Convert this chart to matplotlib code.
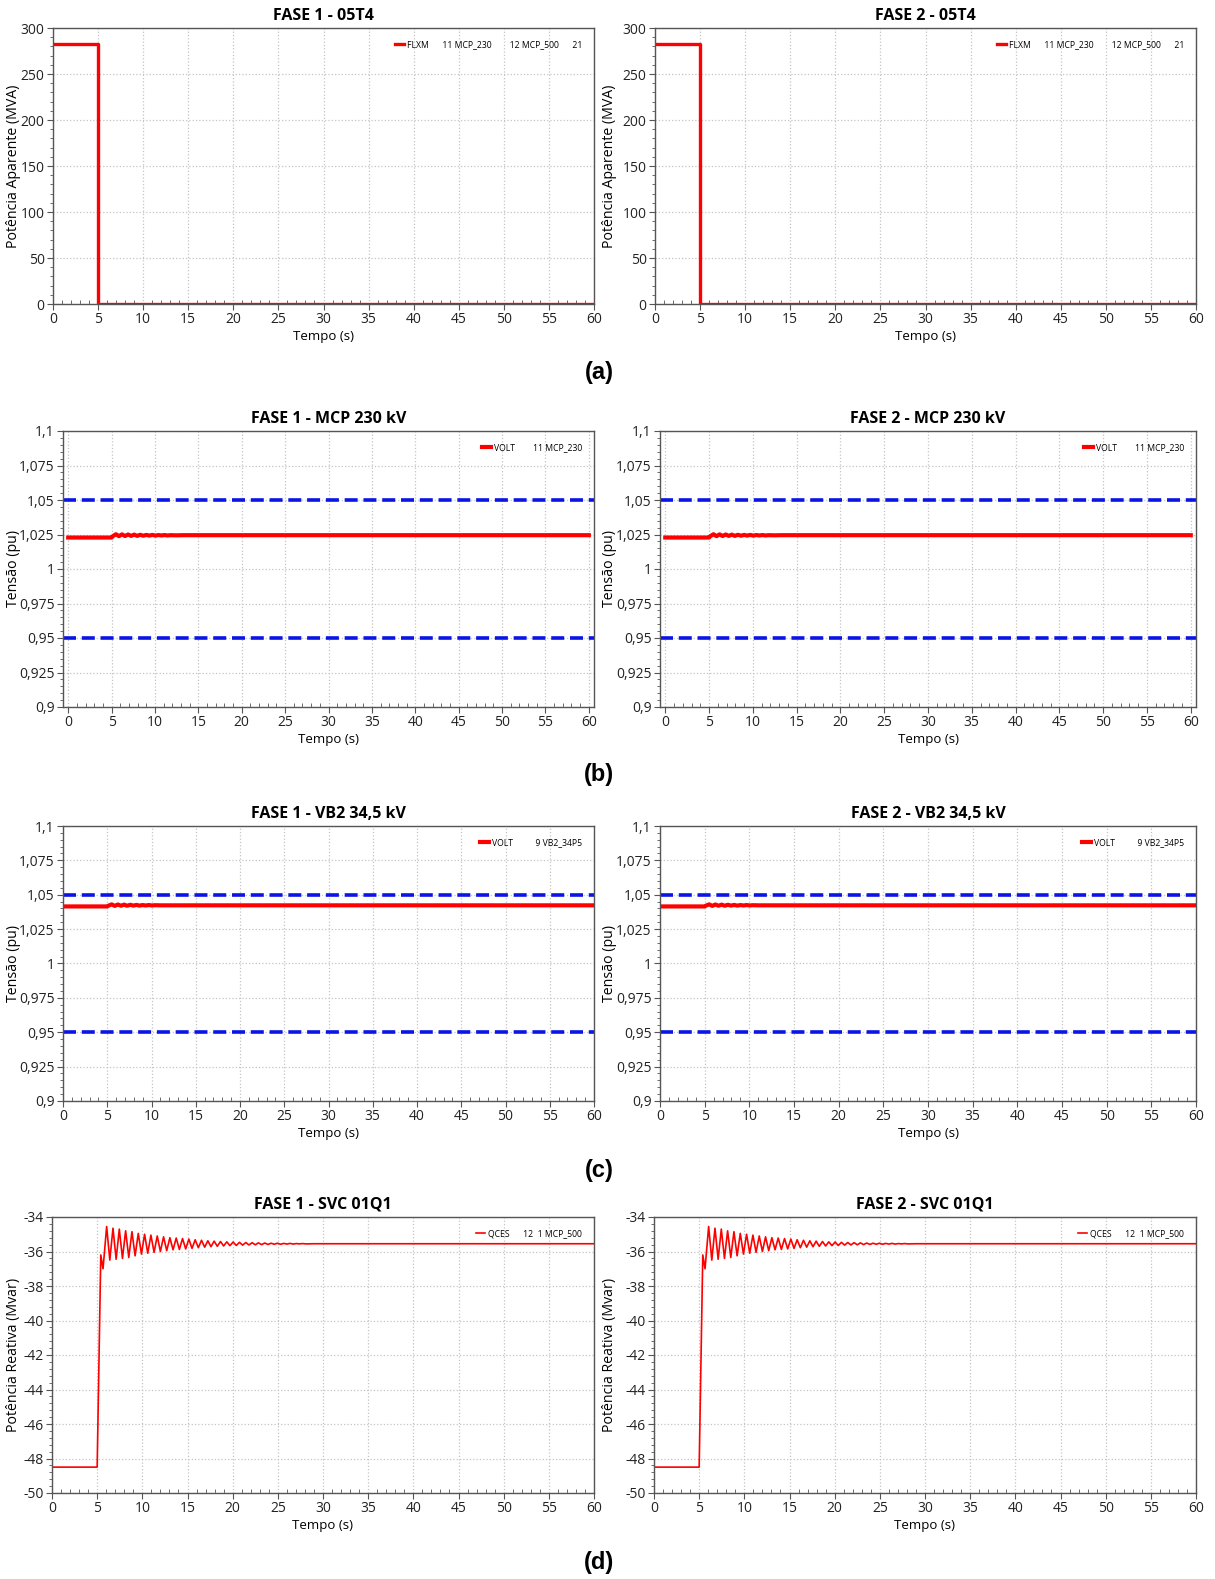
import matplotlib
matplotlib.use("Agg")
import matplotlib.pyplot as plt
import matplotlib.transforms as mtransforms
from matplotlib.ticker import MultipleLocator, AutoMinorLocator, FuncFormatter

plt.rcParams['font.family'] = ['Open Sans', 'DejaVu Sans']

# ---- data ----
# (a) apparent power on 05T4 (MVA)
t_flx = [0, 5.0, 5.0, 60]
s_flx = [283, 283, 0.5, 0.5]

# (b) voltage MCP 230 kV (pu)
t_v230 = [0, 5.0, 5.15, 5.5, 5.85, 6.2, 6.55, 6.9, 7.25, 7.6, 7.95, 8.3, 8.65,
          9.0, 9.35, 9.7, 10.05, 10.4, 10.75, 11.1, 11.45, 11.8, 12.5, 13.2, 14.0, 15.0, 60]
v230 = [1.0228, 1.0228, 1.0238, 1.0252, 1.0238, 1.0251, 1.0239, 1.0250, 1.0240,
        1.0249, 1.0240, 1.0248, 1.0241, 1.0247, 1.0242, 1.0247, 1.0242, 1.0246,
        1.0243, 1.0246, 1.0243, 1.0245, 1.0244, 1.0245, 1.0245, 1.0245, 1.0245]

# (c) voltage VB2 34,5 kV (pu)
t_vb2 = [0, 5.0, 5.15, 5.5, 5.85, 6.2, 6.55, 6.9, 7.25, 7.6, 7.95, 8.3, 8.65,
         9.0, 9.35, 9.7, 10.05, 10.4, 11.0, 12.0, 60]
vb2 = [1.0415, 1.0415, 1.0421, 1.0430, 1.0419, 1.0429, 1.0420, 1.0428, 1.0420,
       1.0427, 1.0421, 1.0426, 1.0421, 1.0425, 1.0422, 1.0425, 1.0422, 1.0424,
       1.0423, 1.0423, 1.0423]

# (d) SVC reactive power (Mvar)
t_q = [0, 5.0, 5.4, 5.65, 6.05, 6.4, 6.75, 7.1, 7.45, 7.8, 8.15, 8.5, 8.85, 9.2,
       9.55, 9.9, 10.25, 10.6, 10.95, 11.3, 11.65, 12.0, 12.35, 12.7, 13.05, 13.4,
       13.75, 14.1, 14.45, 14.8, 15.15, 15.5, 15.85, 16.2, 16.55, 16.9, 17.25, 17.6,
       17.95, 18.3, 18.65, 19.0, 19.35, 19.7, 20.05, 20.4, 20.75, 21.1, 21.45, 21.8,
       22.15, 22.5, 22.85, 23.2, 23.55, 23.9, 24.25, 24.6, 24.95, 25.3, 25.65, 26.0,
       26.35, 26.7, 27.05, 27.4, 27.75, 28.1, 29.0, 60]
q_svc = [-48.5, -48.5, -36.2, -37.0, -34.55, -36.5, -34.65, -36.45, -34.7, -36.4,
         -34.8, -36.35, -34.85, -36.25, -34.95, -36.15, -35.0, -36.1, -35.05, -36.05,
         -35.1, -36.0, -35.15, -35.95, -35.2, -35.9, -35.22, -35.88, -35.25, -35.85,
         -35.28, -35.82, -35.32, -35.78, -35.35, -35.75, -35.38, -35.72, -35.4, -35.7,
         -35.42, -35.68, -35.44, -35.66, -35.45, -35.65, -35.47, -35.63, -35.48, -35.62,
         -35.49, -35.61, -35.5, -35.6, -35.51, -35.59, -35.52, -35.58, -35.52, -35.58,
         -35.53, -35.57, -35.53, -35.57, -35.54, -35.56, -35.54, -35.56, -35.55, -35.55]

v_limits = [1.05, 0.95]

titles = [("FASE 1 - 05T4", "FASE 2 - 05T4"),
          ("FASE 1 - MCP 230 kV", "FASE 2 - MCP 230 kV"),
          ("FASE 1 - VB2 34,5 kV", "FASE 2 - VB2 34,5 kV"),
          ("FASE 1 - SVC 01Q1", "FASE 2 - SVC 01Q1")]
legends = ["FLXM      11 MCP_230        12 MCP_500      21",
           "VOLT        11 MCP_230",
           "VOLT          9 VB2_34P5",
           "QCES      12  1 MCP_500"]
ylabels = ["Potência Aparente (MVA)", "Tensão (pu)", "Tensão (pu)", "Potência Reativa (Mvar)"]
panel_tags = ["(a)", "(b)", "(c)", "(d)"]

W, H = 1215, 1579
fig = plt.figure(figsize=(W / 100, H / 100), dpi=100)


def rect(x0, y0, x1, y1):
    return [x0 / W, 1 - y1 / H, (x1 - x0) / W, (y1 - y0) / H]


# pixel boxes of each axes (left, top, right, bottom)
boxes = [[(53, 28, 594, 304), (655, 28, 1196, 304)],
         [(63, 431, 594, 707), (660, 431, 1196, 707)],
         [(63, 826, 594, 1101), (660, 826, 1196, 1101)],
         [(52, 1217, 594, 1493), (654, 1217, 1196, 1493)]]
ylabel_x = [21, 617]
tag_y = [372, 774, 1170, 1562]


def comma(v, pos):
    s = '%g' % round(v, 4)
    return s.replace('.', ',')


def style(ax, title, ylabel, legend, col):
    ax.set_title(title, fontsize=11.5, fontweight='bold', pad=6)
    ax.set_xlabel("Tempo (s)", fontsize=9.5, labelpad=2)
    ax.set_ylabel(ylabel, fontsize=10.2)
    tr = mtransforms.blended_transform_factory(fig.transFigure, ax.transAxes)
    ax.yaxis.set_label_coords(ylabel_x[col] / W, 0.5, transform=tr)
    ax.xaxis.set_major_locator(MultipleLocator(5))
    ax.xaxis.set_minor_locator(AutoMinorLocator(5))
    ax.yaxis.set_minor_locator(AutoMinorLocator(5))
    ax.yaxis.set_major_formatter(FuncFormatter(comma))
    ax.grid(True, which='major', color='#c4c4c4', linestyle=':', linewidth=0.9)
    ax.tick_params(axis='both', which='major', labelsize=10, length=4, color='#555555',
                   labelcolor='#222222', pad=2)
    ax.tick_params(axis='x', which='minor', direction='in', length=3, color='#555555')
    ax.tick_params(axis='y', which='minor', length=2.5, color='#555555')
    for sp in ax.spines.values():
        sp.set_color('#555555')
        sp.set_linewidth(1.0)
    leg = ax.legend([legend], loc='upper right', frameon=False, fontsize=6.2,
                    handlelength=1.1, handletextpad=0.3, borderaxespad=1.0)
    return leg


for row in range(4):
    for col in range(2):
        ax = fig.add_axes(rect(*boxes[row][col]))
        if row == 0:
            ax.plot(t_flx, s_flx, color='#ff0000', lw=2.4)
            ax.set_xlim(0, 60)
            ax.set_ylim(0, 300)
            ax.yaxis.set_major_locator(MultipleLocator(50))
        elif row == 1:
            ax.plot(t_v230, v230, color='#ff0000', lw=3.0)
            for lim in v_limits:
                ax.axhline(lim, color='#0a14e6', lw=2.6, dashes=(3.6, 1.6))
            ax.set_xlim(-0.6, 60.6)
            ax.set_ylim(0.9, 1.1)
            ax.yaxis.set_major_locator(MultipleLocator(0.025))
        elif row == 2:
            ax.plot(t_vb2, vb2, color='#ff0000', lw=3.0)
            for lim in v_limits:
                ax.axhline(lim, color='#0a14e6', lw=2.6, dashes=(3.6, 1.6))
            ax.set_xlim(0, 60)
            ax.set_ylim(0.9, 1.1)
            ax.yaxis.set_major_locator(MultipleLocator(0.025))
        else:
            ax.plot(t_q, q_svc, color='#ff0000', lw=1.2)
            ax.set_xlim(0, 60)
            ax.set_ylim(-50, -34)
            ax.yaxis.set_major_locator(MultipleLocator(2))
        style(ax, titles[row][col], ylabels[row], legends[row], col)
    fig.text(599 / W, 1 - tag_y[row] / H, panel_tags[row], ha='center', va='center',
             fontsize=17, fontweight='bold', family=['Liberation Sans', 'DejaVu Sans'])

fig.savefig("out.png", dpi=100)
